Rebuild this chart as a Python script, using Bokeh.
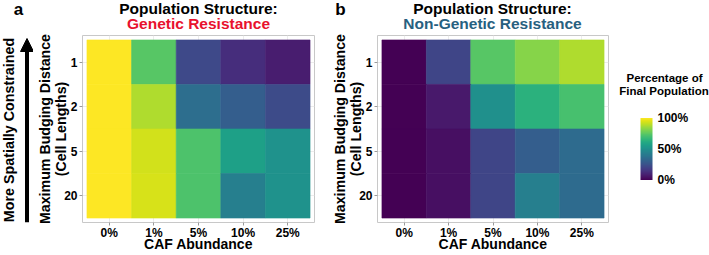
import math
from bokeh.plotting import figure
from bokeh.models import (ColumnDataSource, LinearColorMapper, ColorBar, FixedTicker,
                          NumeralTickFormatter, Arrow, NormalHead, FactorRange, Range1d,
                          CategoricalAxis)
from bokeh.core.properties import value
from bokeh.transform import transform
from bokeh.layouts import row, column
from bokeh.palettes import Viridis256
from bokeh.embed import file_html
from bokeh.resources import INLINE

# ---------------- data ----------------
caf_levels = ["0%", "1%", "5%", "10%", "25%"]
budging_levels = ["20", "5", "2", "1"]          # bottom -> top

# fraction of final population, genetic resistance (rows = max budging distance)
genetic_1 = [1.00, 0.74, 0.22, 0.13, 0.08]
genetic_2 = [1.00, 0.88, 0.36, 0.30, 0.23]
genetic_5 = [1.00, 0.93, 0.72, 0.57, 0.51]
genetic_20 = [1.00, 0.94, 0.72, 0.43, 0.51]

# fraction of final population, non-genetic resistance
nongenetic_1 = [0.00, 0.21, 0.74, 0.82, 0.88]
nongenetic_2 = [0.00, 0.07, 0.50, 0.64, 0.71]
nongenetic_5 = [0.00, 0.04, 0.21, 0.30, 0.35]
nongenetic_20 = [0.00, 0.04, 0.21, 0.43, 0.35]

colorbar_ticks = [0, 0.5, 1]

FONT = "Liberation Sans"
RED = "#E8112D"
BLUE = "#27607F"
mapper = LinearColorMapper(palette=Viridis256, low=0, high=1)

TOP_H = 33          # height of the title strip (page y 0..33)
ROW_H = 255 - TOP_H  # heatmap row (page y 33..255)
FRAME_TOP = 35      # page y of the (shared) frame top in the row
FRAME_BOTTOM = 222  # page y of the (shared) frame bottom in the row
FRAME_H = FRAME_BOTTOM - FRAME_TOP


def mid(baseline, size):
    """vertical centre of the em box for a given baseline (page px)"""
    return baseline - 0.3465 * size


def blank(width, height, x0, x1, y0, y1):
    p = figure(width=width, height=height, x_range=Range1d(x0, x1), y_range=Range1d(y0, y1),
               output_backend="svg", toolbar_location=None, title=None,
               min_border=0, min_border_left=0, min_border_right=0,
               min_border_top=0, min_border_bottom=0)
    p.axis.visible = False
    p.grid.visible = False
    p.outline_line_color = None
    p.background_fill_color = "white"
    p.border_fill_color = "white"
    return p


def texts(p, xs, ys, labels, size, colors=None, angle=0.0):
    src = ColumnDataSource(dict(x=xs, y=ys, t=labels,
                                c=colors if colors else ["black"] * len(xs)))
    p.text(x="x", y="y", text="t", source=src, text_color="c",
           text_font=value(FONT), text_font_size=value(f"{size}px"), text_font_style="bold",
           text_align="center", text_baseline="middle", angle=angle)


def build_source(rows):
    caf, bud, val = [], [], []
    for b, vals in rows:
        for c, v in zip(caf_levels, vals):
            caf.append(c)
            bud.append(b)
            val.append(v)
    return ColumnDataSource(dict(caf=caf, bud=bud, val=val))


def make_panel(rows, width, left, right):
    src = build_source(rows)
    p = figure(width=width, height=ROW_H,
               x_range=FactorRange(*caf_levels, range_padding=0.04),
               y_range=FactorRange(*budging_levels, range_padding=0.05),
               output_backend="svg", toolbar_location=None, title=None,
               min_border_left=left, min_border_right=right,
               min_border_top=FRAME_TOP - TOP_H, min_border_bottom=255 - FRAME_BOTTOM)
    p.rect(x="caf", y="bud", width=1, height=1, source=src,
           fill_color=transform("val", mapper),
           line_color=transform("val", mapper), line_width=0.6)
    p.outline_line_color = "#c8c8c8"
    p.outline_line_width = 1
    p.background_fill_color = "white"
    p.border_fill_color = "white"
    for ax in (p.xaxis[0], p.yaxis[0]):
        ax.axis_line_color = None
        ax.major_tick_line_color = "#9a9a9a"
        ax.major_tick_out = 3
        ax.major_tick_in = 0
        ax.minor_tick_line_color = None
        ax.major_label_text_font = FONT
        ax.major_label_text_font_size = "12px"
        ax.major_label_text_font_style = "bold"
        ax.major_label_text_color = "black"
        ax.axis_label_text_font = FONT
        ax.axis_label_text_font_style = "bold"
        ax.axis_label_text_color = "black"
    p.yaxis.major_label_standoff = 2
    p.xaxis.major_label_standoff = 0
    p.xaxis.axis_label = "CAF Abundance"
    p.xaxis.axis_label_text_font_size = "14px"
    p.xaxis.axis_label_standoff = -7
    p.yaxis.axis_label = "(Cell Lengths)"
    p.yaxis.axis_label_text_font_size = "14.2px"
    p.yaxis.axis_label_standoff = -8

    ax2 = CategoricalAxis(axis_label="Maximum Budging Distance")
    ax2.axis_line_color = None
    ax2.major_tick_line_color = None
    ax2.major_tick_out = 0
    ax2.major_tick_in = 0
    ax2.minor_tick_line_color = None
    ax2.major_label_text_color = None
    ax2.major_label_standoff = 0
    ax2.axis_label_text_font = FONT
    ax2.axis_label_text_font_size = "14.2px"
    ax2.axis_label_text_font_style = "bold"
    ax2.axis_label_text_color = "black"
    ax2.axis_label_standoff = -2
    p.add_layout(ax2, "left")

    p.xgrid.grid_line_color = "#ececec"
    p.ygrid.grid_line_color = "#ececec"
    return p


# ---------------- top strip (panel letters and titles) ----------------
top = blank(709, TOP_H, 0, 709, 0, TOP_H)
texts(top, [18, 340], [TOP_H - mid(15.2, 17)] * 2, ["a", "b"], 17)
texts(top, [198, 492], [TOP_H - mid(13.6, 15.5)] * 2,
      ["Population Structure:", "Population Structure:"], 15.5)
texts(top, [198, 492], [TOP_H - mid(28, 15.5)] * 2,
      ["Genetic Resistance", "Non-Genetic Resistance"], 15.5, colors=[RED, BLUE])

# ---------------- left strip (arrow); frame spans page y 35..222 ----------------
left = blank(33, ROW_H, 0, 33, 0, FRAME_H)
texts(left, [8.0], [FRAME_BOTTOM - 129.5], ["More Spatially Constrained"], 14.3, angle=math.pi / 2)
left.add_layout(Arrow(end=NormalHead(size=13, fill_color="black", line_color="black", line_width=1),
                      x_start=26.5, y_start=FRAME_BOTTOM - 222, x_end=26.5, y_end=FRAME_BOTTOM - 38,
                      line_width=4, line_color="black"))

# ---------------- heatmaps ----------------
pa = make_panel([("1", genetic_1), ("2", genetic_2), ("5", genetic_5), ("20", genetic_20)],
                width=295, left=49, right=14)
pb = make_panel([("1", nongenetic_1), ("2", nongenetic_2), ("5", nongenetic_5), ("20", nongenetic_20)],
                width=287, left=49, right=7)

# ---------------- legend strip; frame spans page y 35..222 ----------------
leg = blank(94, ROW_H, 615, 709, 0, FRAME_H)
texts(leg, [664, 663.5], [FRAME_BOTTOM - mid(81.5, 11.5), FRAME_BOTTOM - mid(94, 11.5)],
      ["Percentage of", "Final Population"], 11.5)
cb = ColorBar(color_mapper=mapper, ticker=FixedTicker(ticks=colorbar_ticks),
              formatter=NumeralTickFormatter(format="0%"),
              width=12, height=62, location=(640 - 615, FRAME_BOTTOM - 179.5),
              padding=0, margin=0, major_tick_line_color=None, minor_tick_line_color=None,
              bar_line_color=None, border_line_color=None, background_fill_alpha=0,
              major_label_text_font=FONT, major_label_text_font_size="12px",
              major_label_text_font_style="bold", major_label_text_color="black",
              label_standoff=5)
leg.add_layout(cb)

lay = column(top, row(left, pa, pb, leg))

open("out.html", "w").write(file_html(lay, INLINE))
